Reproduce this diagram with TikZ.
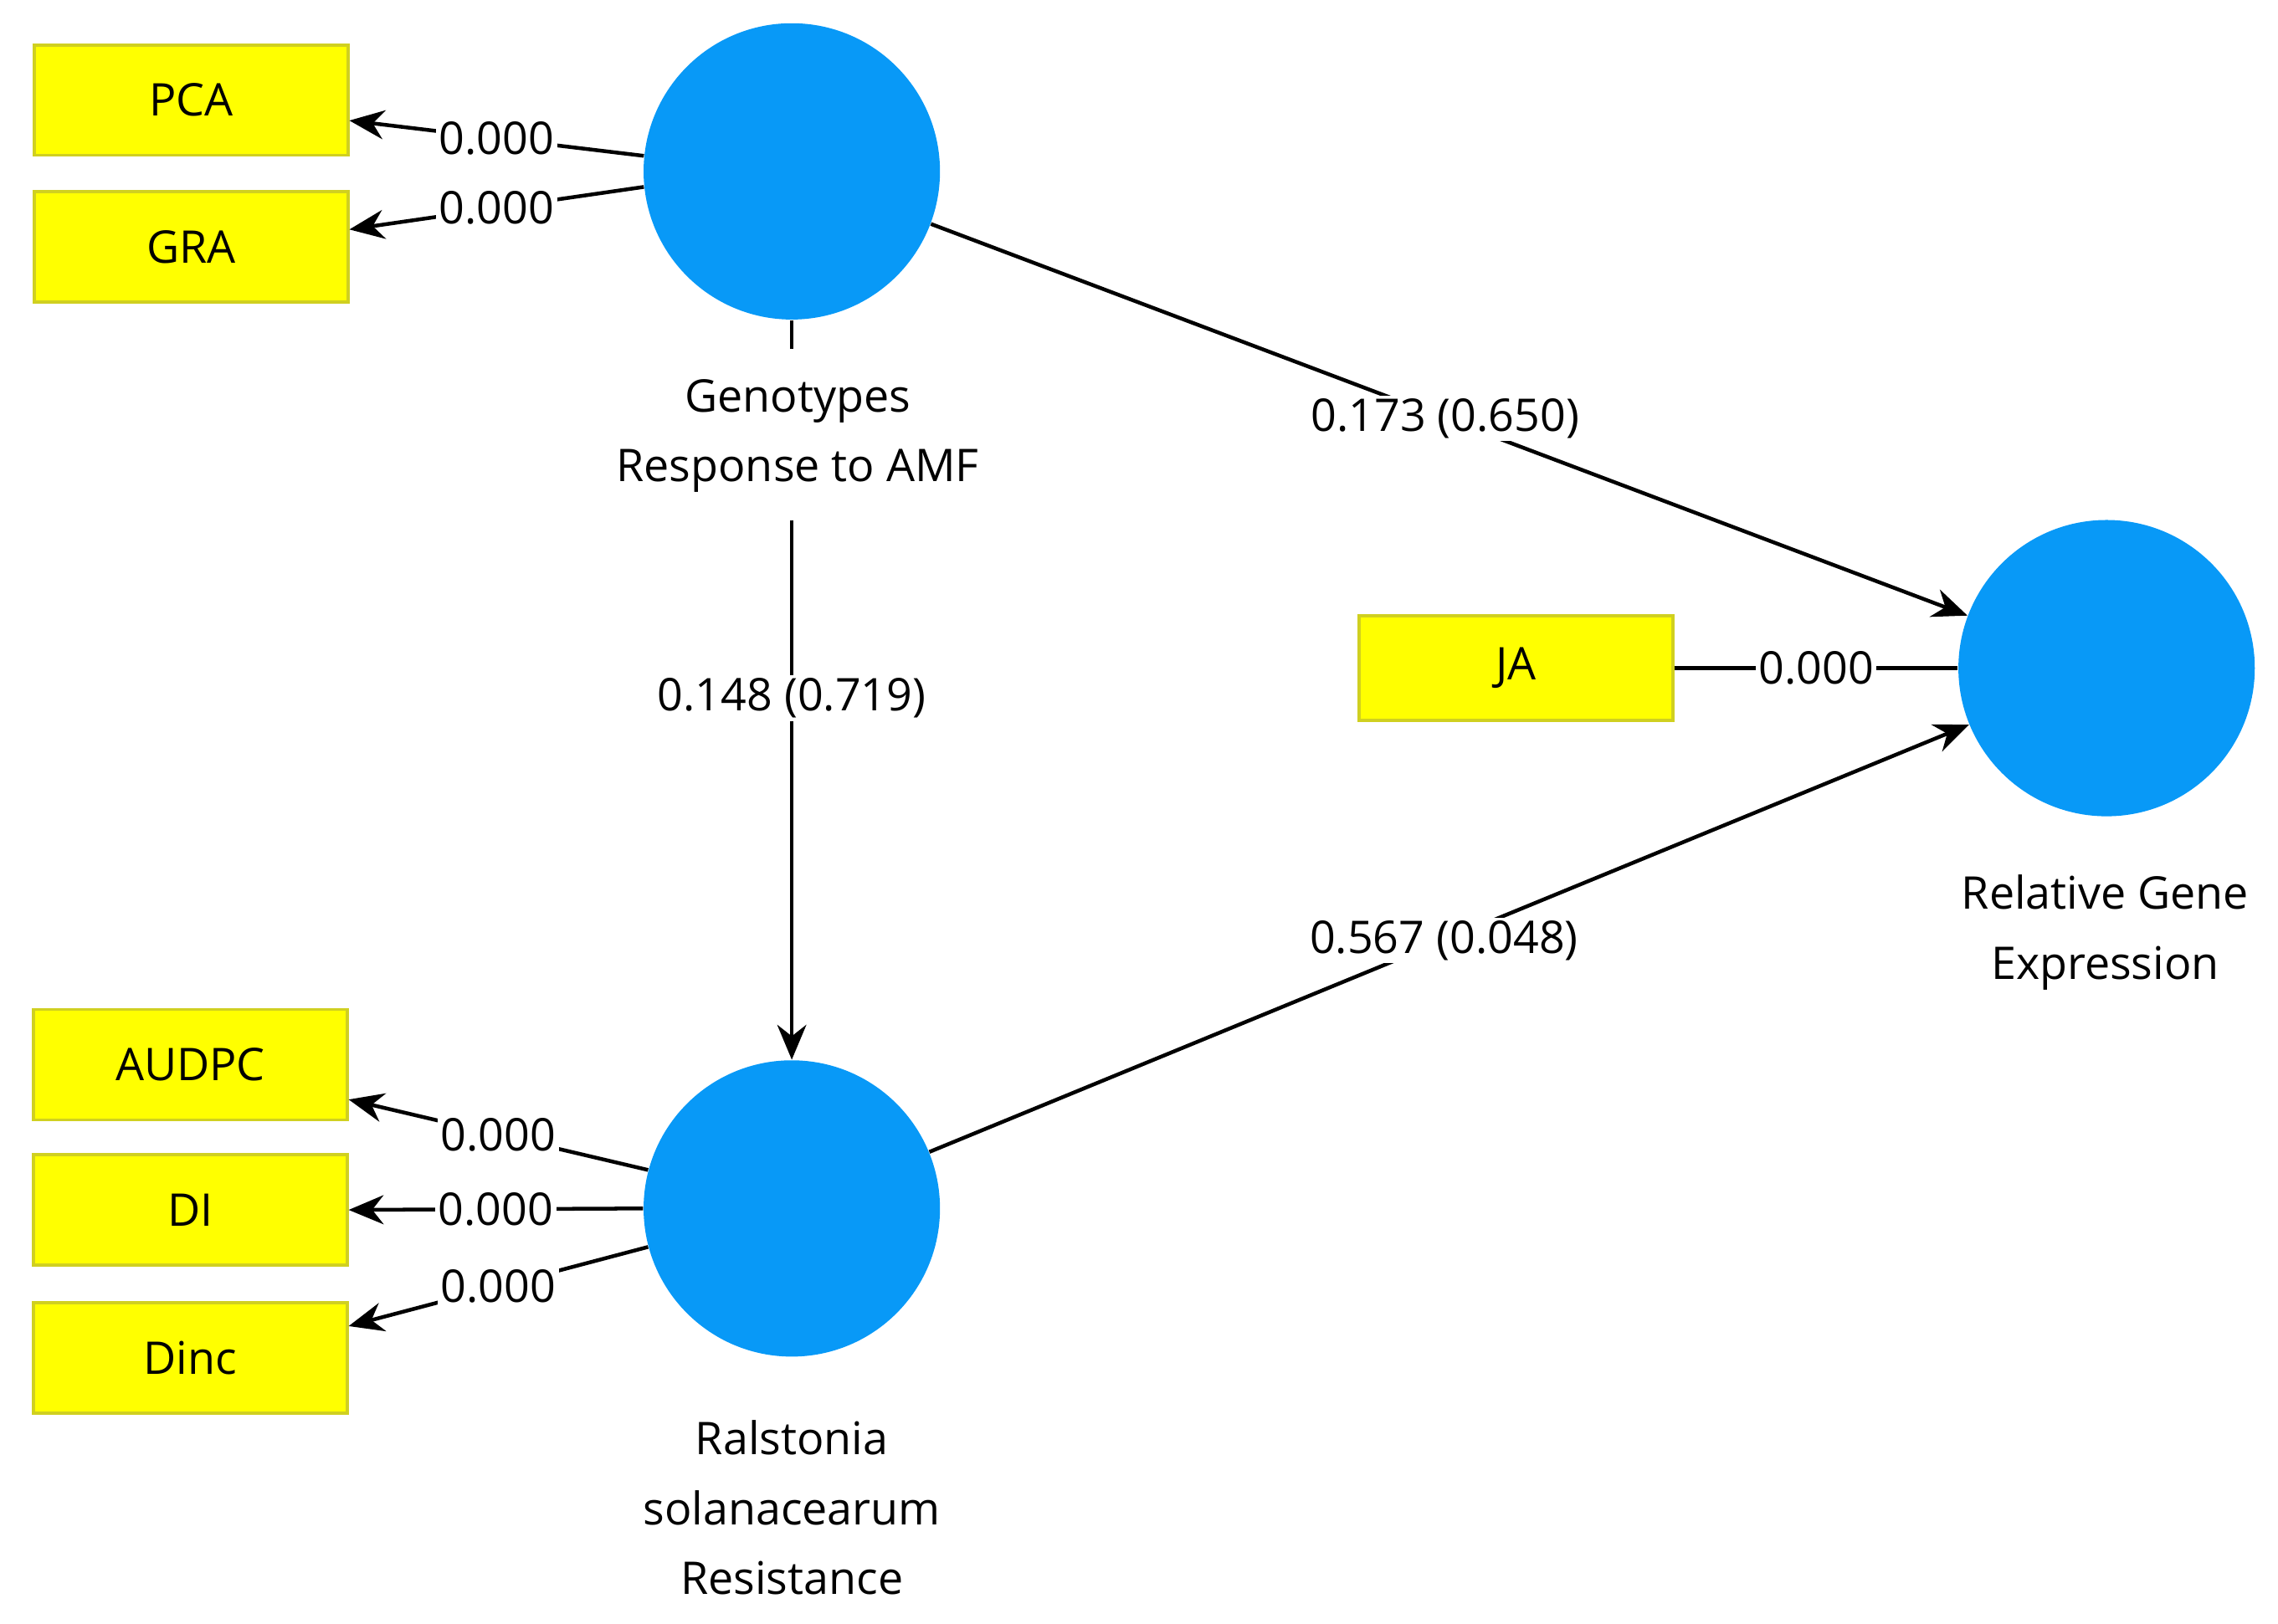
\documentclass[tikz,border=0pt]{standalone}
\usepackage{fontspec}
\setmainfont{Open Sans}
\usetikzlibrary{arrows.meta}
\definecolor{bl}{HTML}{0899F7}
\definecolor{yl}{HTML}{FFFF00}
\definecolor{yb}{HTML}{D0D020}
\begin{document}
\begin{tikzpicture}[x=0.5pt,y=-0.5pt,
  lv/.style={circle,fill=bl,minimum size=102pt,inner sep=0pt},
  ind/.style={rectangle,fill=yl,draw=yb,line width=1pt,minimum width=108pt,minimum height=38pt,font=\fontsize{15.5}{18}\selectfont},
  lab/.style={align=center,font=\fontsize{15.5}{24}\selectfont},
  val/.style={fill=white,inner sep=1pt,font=\fontsize{15.5}{18}\selectfont},
  arr/.style={line width=1.3pt,-{Stealth[length=12pt,width=10pt]}},
  ln/.style={line width=1.3pt}]
\useasboundingbox (0,0) rectangle (1568,1118);
\node[lv] (g) at (545,118) {};
\node[lv] (r) at (545,832) {};
\node[lv] (e) at (1450,460) {};
\node[ind] (pca) at (131.5,69) {PCA};
\node[ind] (gra) at (131.5,170) {GRA};
\node[ind] (audpc) at (131,733) {AUDPC};
\node[ind] (di) at (131,833) {DI};
\node[ind] (dinc) at (131,935) {Dinc};
\node[ind,minimum height=36pt] (ja) at (1043.5,460) {JA};
\node[lab] (gl) at (549,300) {Genotypes\\Response to AMF};
\node[lab] (rl) at (545,1038) {Ralstonia\\solanacearum\\Resistance};
\node[lab] (el) at (1449,642) {Relative Gene\\Expression};
\draw[arr] (g.174) -- node[val,pos=0.5]{0.000} ([yshift=-7pt]pca.east);
\draw[arr] (g.186) -- node[val,pos=0.5]{0.000} ([yshift=6pt]gra.east);
\draw[arr] (r.165) -- node[val,pos=0.5]{0.000} ([yshift=-12pt]audpc.east);
\draw[arr] (r.180) -- node[val,pos=0.5]{0.000} (di.east);
\draw[arr] (r.195) -- node[val,pos=0.5]{0.000} ([yshift=11pt]dinc.east);
\draw[ln] (ja) -- node[val,pos=0.5]{0.000} (e);
\draw[arr] (g) -- node[val,pos=0.496]{0.173 (0.650)} (e);
\draw[arr] (r) -- node[val,pos=0.495]{0.567 (0.048)} (e);
\draw[ln] (g.south) -- ([yshift=-10pt]g.south);
\draw[arr] ([yshift=-6pt]gl.south -| r.north) -- node[val,pos=0.33]{0.148 (0.719)} (r.north);
\end{tikzpicture}
\end{document}
